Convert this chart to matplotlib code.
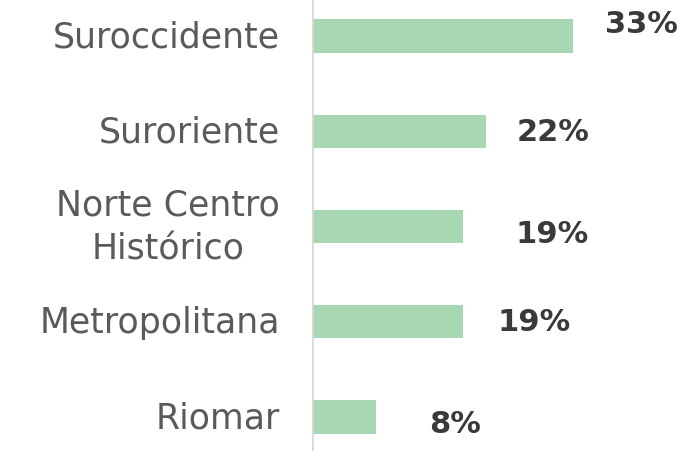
import matplotlib
matplotlib.use("Agg")
import matplotlib.pyplot as plt
from matplotlib.transforms import ScaledTranslation

regions = ["Suroccidente", "Suroriente", "Norte Centro\nHistórico", "Metropolitana", "Riomar"]
shares = [33, 22, 19, 19, 8]
value_labels = ["33%", "22%", "19%", "19%", "8%"]

# label offsets from bar end, in points (as laid out in the source slide)
label_offsets = [(23, 9), (22, 0), (38, -5), (25, 0), (38, -5)]

bar_color = "#a8d8b3"
text_gray = "#5a5a5a"

fig = plt.figure(figsize=(6.84, 4.52), dpi=100)
ax = fig.add_axes([313 / 684, 0, 362 / 684, 1])

ypos = list(range(len(regions)))
ax.barh(ypos, shares, height=0.35, color=bar_color)

ax.set_xlim(0, 46)
ax.set_ylim(4.357, -0.39)

for y, v, lab, off in zip(ypos, shares, value_labels, label_offsets):
    ax.annotate(lab, (v, y), xytext=off, textcoords="offset points",
                ha="left", va="center", fontsize=22, fontweight="semibold",
                color="#3a3a3a")

ax.set_yticks(ypos)
ax.set_yticklabels(regions, fontsize=25, color=text_gray,
                   multialignment="center", linespacing=1.35)
ax.tick_params(axis="y", length=0, pad=24)
ax.set_xticks([])

# nudge labels up a little to sit level with the bars
for t in ax.get_yticklabels():
    dy = 6 if "\n" in t.get_text() else 2.5
    t.set_transform(t.get_transform() + ScaledTranslation(0, dy / 72, fig.dpi_scale_trans))

for side in ["top", "right", "bottom"]:
    ax.spines[side].set_visible(False)
ax.spines["left"].set_color("#d4d4d4")
ax.spines["left"].set_linewidth(1.2)

fig.savefig("out.png", dpi=100)
